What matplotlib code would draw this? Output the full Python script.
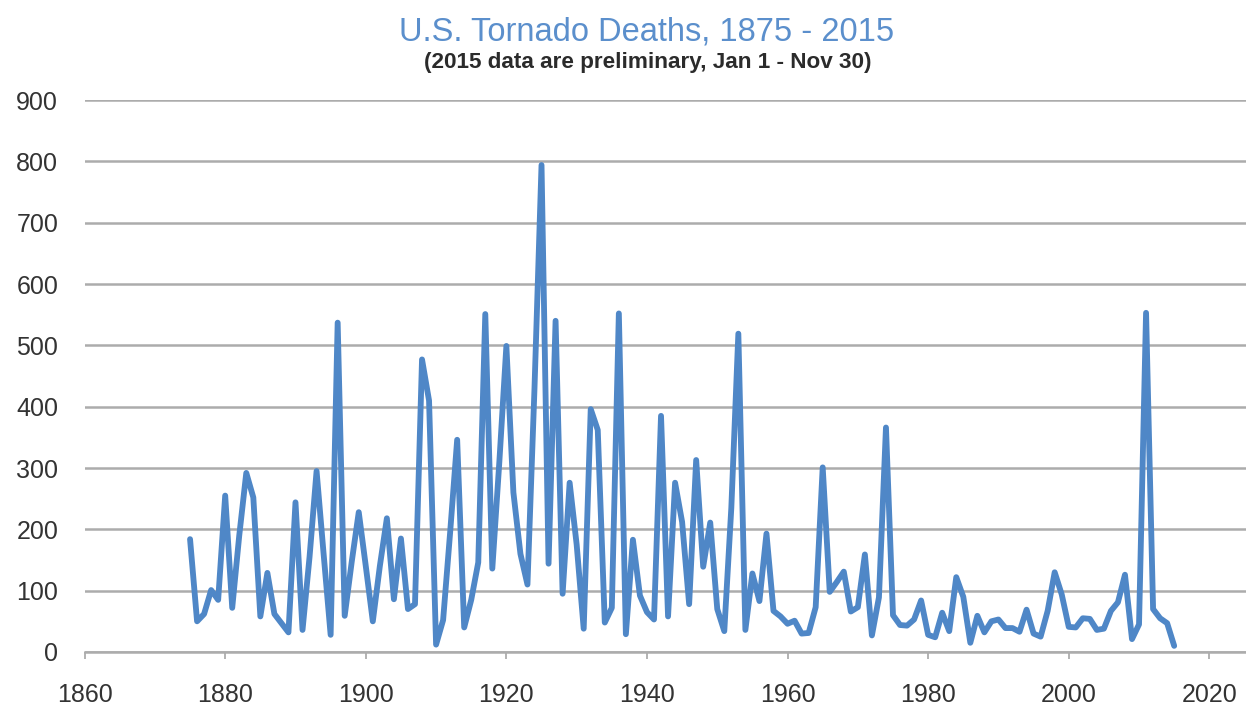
import matplotlib
matplotlib.use("Agg")
from matplotlib import pyplot as plt

# annual U.S. tornado deaths, 1875 .. 2015
years = list(range(1875, 2016))
deaths = [
    184, 50, 62, 101, 85,                                # 1875-1879
    255, 72, 190, 292, 252, 58, 129, 62, 47, 32,         # 1880s
    244, 36, 155, 295, 160, 28, 537, 59, 147, 228,       # 1890s
    140, 50, 140, 218, 86, 185, 70, 78, 477, 410,        # 1900s
    12, 52, 195, 346, 40, 85, 146, 551, 136, 310,        # 1910s
    499, 260, 160, 110, 430, 794, 144, 540, 95, 276,     # 1920s
    175, 38, 396, 362, 48, 72, 552, 29, 183, 92,         # 1930s
    65, 53, 385, 58, 276, 212, 78, 313, 139, 211,        # 1940s
    70, 34, 235, 519, 36, 128, 83, 193, 67, 58,          # 1950s
    46, 51, 30, 31, 73, 301, 98, 114, 131, 66,           # 1960s
    73, 159, 27, 89, 366, 60, 44, 43, 53, 84,            # 1970s
    28, 24, 64, 34, 122, 90, 15, 59, 32, 50,             # 1980s
    53, 39, 39, 33, 69, 30, 25, 67, 130, 94,             # 1990s
    41, 40, 55, 54, 36, 38, 67, 81, 126, 21,             # 2000s
    45, 553, 70, 55, 47, 10,                             # 2010-2015
]
x_ticks = [1860, 1880, 1900, 1920, 1940, 1960, 1980, 2000, 2020]
y_ticks = [0, 100, 200, 300, 400, 500, 600, 700, 800, 900]

title = "U.S. Tornado Deaths, 1875 - 2015"
subtitle = "(2015 data are preliminary, Jan 1 - Nov 30)"

plt.rcParams['font.family'] = ['Liberation Sans', 'DejaVu Sans']

fig = plt.figure(figsize=(12.46, 7.16), dpi=100)
ax = fig.add_axes([0.0679, 0.0894, 0.932, 0.7709])

ax.plot(years, deaths, color='#4f87c7', linewidth=4.2,
        solid_joinstyle='round', solid_capstyle='round')

ax.set_xlim(1860, 2025.2)
ax.set_ylim(0, 900)
ax.set_xticks(x_ticks)
ax.set_yticks(y_ticks)
ax.grid(axis='y', color='#acacac', linewidth=1.8)
ax.set_axisbelow(True)

for side in ['left', 'right', 'top']:
    ax.spines[side].set_visible(False)
ax.spines['bottom'].set_color('#acacac')
ax.spines['bottom'].set_linewidth(1.8)

ax.tick_params(axis='x', length=5, width=1.3, color='#acacac', pad=17,
               labelsize=18, labelcolor='#333333')
ax.tick_params(axis='y', length=0, pad=19, labelsize=18, labelcolor='#333333')

fig.text(0.519, 0.955, title, ha='center', va='center', fontsize=23.5,
         color='#5b8fcc')
fig.text(0.52, 0.913, subtitle, ha='center', va='center', fontsize=16.2,
         fontweight='bold', color='#2b2b2b')

fig.savefig('out.png', dpi=100)
